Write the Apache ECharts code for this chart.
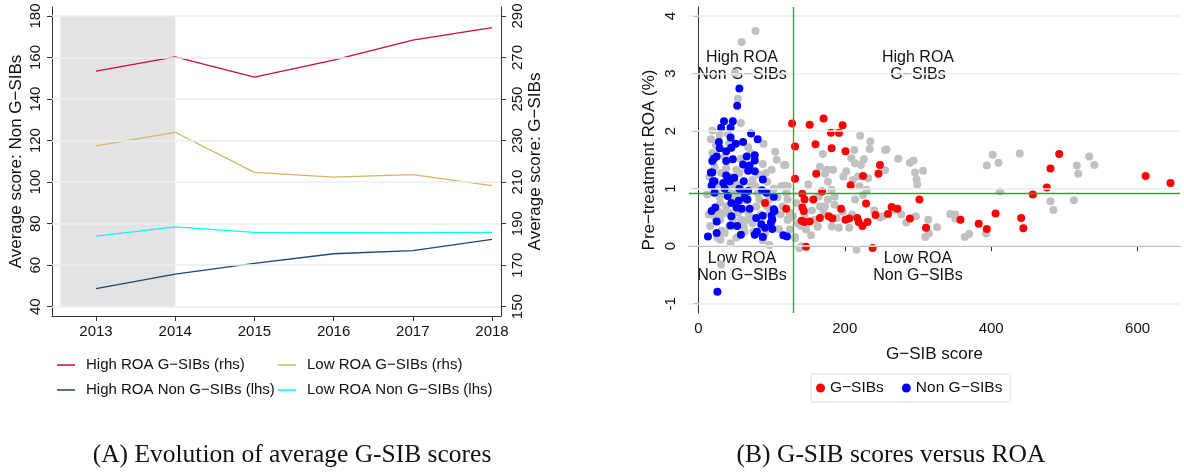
<!DOCTYPE html>
<html>
<head>
<meta charset="utf-8">
<script src="https://cdn.jsdelivr.net/npm/echarts@6/dist/echarts.min.js"></script>
<style>
html, body { margin: 0; padding: 0; background: #fff; }
#main { width: 1184px; height: 472px; }
</style>
</head>
<body>
<div id="main"></div>
<script>
// panel A: average scores by year
var years = [2013, 2014, 2015, 2016, 2017, 2018];
var highRoaGsib = [263.5, 270.3, 260.6, 268.8, 278.4, 284.4];     // rhs
var lowRoaGsib = [227.4, 234.0, 214.7, 212.4, 213.6, 208.3];      // rhs
var highRoaNonGsib = [48.7, 55.7, 60.9, 65.5, 67.0, 72.4];        // lhs
var lowRoaNonGsib = [74.0, 78.4, 75.8, 75.6, 75.7, 75.8];         // lhs
var leftTicks = [40, 60, 80, 100, 120, 140, 160, 180];
var rightTicks = [150, 170, 190, 210, 230, 250, 270, 290];
var preTreatment = [2012.55, 2014];

// panel B: G-SIB score vs pre-treatment ROA
var scoreTicks = [0, 200, 400, 600];
var roaTicks = [-1, 0, 1, 2, 3, 4];
var scoreCut = 130;
var roaCut = 0.92;

var otherPoints = [
  [78,3.74],[59,3.55],[50,3.01],[54,2.56],[58,2.14],
  [19,2.01],[17,1.86],[24,1.76],[19,1.62],[29,1.93],[22,1.37],[31,1.27],[27,1.05],[29,0.85],[30,0.75],
  [34,0.57],[30,0.46],[32,0.27],[30,0.11],[31,-0.32],[40,1.96],[42,1.79],[38,1.35],[40,1.04],[47,0.98],
  [49,0.81],[38,0.69],[42,0.58],[47,0.47],[36,0.23],[28,0.60],[25,0.98],[52,1.33],[56,1.27],[58,1.07],
  [54,0.58],[58,0.46],[62,0.35],[67,0.46],[58,1.52],[68,1.72],[72,1.61],[74,1.15],[72,1.04],[70,0.52],
  [74,0.40],[79,0.69],[83,0.81],[81,0.92],[78,1.04],[89,1.78],[88,1.43],[92,1.27],[94,1.12],[97,0.81],
  [94,0.69],[91,0.22],[97,0.02],[100,1.33],[105,1.64],[107,1.50],[113,1.04],[115,0.69],[117,1.41],[118,1.05],
  [120,0.93],[122,0.81],[125,0.58],[122,0.46],[129,0.52],[132,0.16],[125,0.29],[141,0.0],
  [15,1.2],[12,0.9],[14,0.55],[16,0.35],[45,1.2],[50,1.1],[44,0.9],[65,0.8],[68,0.6],[85,0.55],
  [86,0.35],[88,0.1],[100,0.4],[103,1.0],[108,0.85],[110,0.3],[63,0.25],[52,0.15],[44,0.05],[36,1.55],
  [66,1.35],[82,1.25],[98,0.6],[112,0.55],[60,0.65],[75,0.25],[55,0.9],[42,0.35],[26,0.15],[23,0.5],
  [193,1.96],[221,1.92],[235,1.82],[234,1.69],[255,1.67],[213,1.67],[170,1.60],[209,1.53],[226,1.51],[214,1.44],
  [222,1.41],[166,1.38],[176,1.33],[184,1.33],[202,1.30],[173,1.26],[218,1.21],[198,1.21],[232,1.18],[211,1.15],
  [119,1.41],[122,1.04],[177,1.12],[182,0.98],[220,1.04],[230,0.98],[225,0.89],[150,1.07],[164,0.86],[186,0.86],
  [214,0.81],[177,0.81],[186,0.72],[125,0.57],[134,0.75],[159,0.46],[163,0.34],[173,0.69],[189,0.49],[182,0.34],
  [138,-0.03],[216,-0.06],[132,0.14],[136,0.40],[147,0.29],[154,0.19],[163,0.34],[192,0.32],[206,0.32],[171,0.58],
  [166,0.69],[140,0.35],[122,0.46],[129,0.52],[197,0.60],[210,0.55],[240,0.62],[248,0.50],[155,0.62],[145,0.55],
  [257,1.68],[273,1.52],[289,1.45],[294,1.49],[296,1.28],[307,1.31],[298,1.16],[299,1.07],[255,1.32],[268,0.63],
  [277,0.55],[284,0.41],[297,0.52],[314,0.46],[326,0.33],[310,0.16],[315,0.22],[344,0.56],[351,0.55],[351,0.48],
  [364,0.16],[370,0.21],[393,0.22],[402,1.59],[410,1.45],[394,1.40],[412,0.95],[439,1.61],[517,1.40],[519,1.26],
  [534,1.56],[541,1.41],[481,0.78],[485,0.63],[513,0.80],[252,0.52]
];
var gsibPoints = [
  [128,2.13],[132,1.73],[132,1.17],[152,2.11],[171,2.22],[181,1.97],[192,1.97],[197,2.10],[160,1.77],[182,1.70],
  [201,1.65],[161,1.26],[208,1.06],[225,1.22],[248,1.41],[246,1.26],[229,0.74],[142,0.91],[145,0.81],[157,0.81],
  [169,0.95],[142,0.67],[144,0.61],[120,0.65],[91,0.75],[141,0.44],[145,0.42],[152,0.43],[166,0.49],[178,0.52],
  [183,0.48],[195,0.65],[201,0.46],[206,0.48],[217,0.49],[219,0.42],[224,0.35],[231,0.42],[242,0.54],[259,0.56],
  [264,0.68],[272,0.65],[289,0.48],[302,0.81],[147,-0.01],[238,-0.03],[311,0.32],[358,0.46],[383,0.39],[394,0.30],
  [406,0.57],[441,0.49],[444,0.31],[457,0.90],[476,1.02],[481,1.35],[493,1.60],[611,1.22],[645,1.10]
];
var nonGsibPoints = [
  [56,2.74],[53,2.44],[35,2.17],[47,2.17],[31,2.06],[44,2.06],[72,1.96],[81,1.86],[44,1.89],[28,1.81],
  [51,1.78],[61,1.81],[29,1.70],[38,1.65],[45,1.71],[21,1.52],[25,1.56],[19,1.48],[38,1.48],[47,1.51],
  [66,1.56],[77,1.58],[61,1.42],[77,1.49],[68,1.31],[77,1.30],[19,1.28],[38,1.23],[49,1.19],[62,1.13],
  [88,1.16],[20,1.13],[34,1.10],[43,1.13],[18,1.05],[22,0.93],[63,0.94],[87,0.97],[40,0.87],[55,0.79],
  [67,0.81],[93,0.93],[103,0.86],[45,0.75],[52,0.67],[59,0.65],[70,0.65],[23,0.67],[18,0.61],[45,0.52],
  [79,0.49],[88,0.53],[100,0.53],[103,0.64],[101,0.46],[25,0.43],[44,0.36],[53,0.35],[25,0.23],[13,0.17],
  [58,0.20],[77,0.20],[80,0.25],[88,0.16],[91,0.32],[101,0.30],[116,0.19],[121,0.17],[26,-0.79],[68,0.96],
  [63,0.84],[86,0.38],[99,0.41],[104,0.61],[40,1.19],[22,1.13],[17,1.28],[36,1.0],[70,1.4],[56,1.0]
];

var sans = '"Liberation Sans", Arial, sans-serif';
var serif = '"Liberation Serif", "DejaVu Serif", serif';
var gridColor = '#e8f0f2';
var axisColor = '#333';
var textColor = '#111';

function pairs(xs, ys) {
  return xs.map(function (x, i) { return [x, ys[i]]; });
}

function gridLines(ticks, axisIdx) {
  return {
    type: 'line', xAxisIndex: axisIdx[0], yAxisIndex: axisIdx[1], data: [], z: 0, silent: true,
    markLine: {
      silent: true, symbol: ['none', 'none'], label: { show: false },
      lineStyle: { color: gridColor, width: 1.5, type: 'solid' },
      data: ticks.map(function (v) { return { yAxis: v }; })
    }
  };
}

function valueAxis(extra) {
  var base = {
    type: 'value',
    axisLine: { show: true, lineStyle: { color: axisColor, width: 1 } },
    axisTick: { show: true, length: 5, lineStyle: { color: axisColor } },
    splitLine: { show: false },
    axisLabel: { color: textColor, fontFamily: sans, fontSize: 15, formatter: function (v) { return String(v); } },
    nameTextStyle: { color: textColor, fontFamily: sans, fontSize: 17 }
  };
  for (var k in extra) {
    if (typeof extra[k] === 'object' && base[k] && !Array.isArray(extra[k])) {
      for (var j in extra[k]) base[k][j] = extra[k][j];
    } else {
      base[k] = extra[k];
    }
  }
  return base;
}

function lineSeries(name, data, yIdx, color) {
  return {
    name: name, type: 'line', xAxisIndex: 0, yAxisIndex: yIdx, z: 3,
    data: pairs(years, data), symbol: 'none',
    lineStyle: { color: color, width: 1.3 }, itemStyle: { color: color }
  };
}

function textEl(text, x, y, size, font) {
  return {
    type: 'text', x: x, y: y, silent: true,
    style: {
      text: text, font: size + 'px ' + (font || sans), fill: textColor,
      align: 'center', textAlign: 'center', verticalAlign: 'middle', textVerticalAlign: 'middle',
      lineHeight: size + 1
    }
  };
}

var lineLegend = {
  orient: 'vertical', top: 356, padding: 0, icon: 'rect', itemWidth: 18, itemHeight: 1.5, itemGap: 7,
  textStyle: { color: textColor, fontFamily: sans, fontSize: 15, lineHeight: 18, padding: [0, 0, 0, 6] }
};

var option = {
  animation: false,
  backgroundColor: '#fff',
  grid: [
    { left: 52, top: 7, width: 449, height: 309 },
    { left: 689, top: 7, width: 491, height: 306 }
  ],
  xAxis: [
    valueAxis({
      gridIndex: 0, min: 2012.444, max: 2018.114,
      axisLabel: { customValues: years, margin: 8 },
      axisTick: { customValues: years }
    }),
    valueAxis({
      gridIndex: 1, min: -12.85, max: 658,
      name: 'G−SIB score', nameLocation: 'middle', nameGap: 33,
      axisLabel: { customValues: scoreTicks, margin: 8 },
      axisTick: { customValues: scoreTicks }
    })
  ],
  yAxis: [
    valueAxis({
      gridIndex: 0, position: 'left', min: 35.52, max: 184.33,
      name: 'Average score: Non G−SIBs', nameLocation: 'middle', nameRotate: 90, nameGap: 27,
      axisLabel: { customValues: leftTicks, rotate: 90, margin: 9 },
      axisTick: { customValues: leftTicks }
    }),
    valueAxis({
      gridIndex: 0, position: 'right', min: 145.52, max: 294.33,
      name: 'Average score: G−SIBs', nameLocation: 'middle', nameRotate: 90, nameGap: 26,
      axisLabel: { customValues: rightTicks, rotate: 90, margin: 9 },
      axisTick: { customValues: rightTicks }
    }),
    valueAxis({
      gridIndex: 1, min: -1.161, max: 4.156,
      name: 'Pre−treatment ROA (%)', nameLocation: 'middle', nameRotate: 90, nameGap: 31,
      axisLabel: { customValues: roaTicks, rotate: 90, margin: 11 },
      axisTick: { customValues: roaTicks }
    })
  ],
  legend: [
    Object.assign({}, lineLegend, { left: 57, data: ['High ROA G−SIBs (rhs)', 'High ROA Non G−SIBs (lhs)'] }),
    Object.assign({}, lineLegend, { left: 278, data: ['Low ROA G−SIBs (rhs)', 'Low ROA Non G−SIBs (lhs)'] }),
    {
      orient: 'horizontal', left: 811, top: 374, icon: 'circle', itemWidth: 9, itemHeight: 9, itemGap: 18,
      padding: [6, 8, 6, 5], borderColor: '#e3ecee', borderWidth: 1.5,
      textStyle: { color: textColor, fontFamily: sans, fontSize: 15.5 },
      data: ['G−SIBs', 'Non G−SIBs']
    }
  ],
  series: [
    gridLines(leftTicks, [0, 0]),
    {
      type: 'line', xAxisIndex: 0, yAxisIndex: 0, data: [], z: 1, silent: true,
      markArea: {
        silent: true, itemStyle: { color: '#e3e3e3' },
        data: [[{ xAxis: preTreatment[0], yAxis: leftTicks[0] }, { xAxis: preTreatment[1], yAxis: leftTicks[leftTicks.length - 1] }]]
      }
    },
    lineSeries('High ROA G−SIBs (rhs)', highRoaGsib, 1, '#cc0c3c'),
    lineSeries('Low ROA G−SIBs (rhs)', lowRoaGsib, 1, '#d6b45e'),
    lineSeries('High ROA Non G−SIBs (lhs)', highRoaNonGsib, 0, '#1a476f'),
    lineSeries('Low ROA Non G−SIBs (lhs)', lowRoaNonGsib, 0, '#00ffff'),

    gridLines(roaTicks, [1, 2]),
    {
      type: 'line', xAxisIndex: 1, yAxisIndex: 2, data: [], z: 1, silent: true,
      markLine: {
        silent: true, symbol: ['none', 'none'], label: { show: false },
        lineStyle: { color: '#3c9a3c', width: 1.3, type: 'solid' },
        data: [{ xAxis: scoreCut }, { yAxis: roaCut }]
      }
    },
    {
      name: 'Other', type: 'scatter', xAxisIndex: 1, yAxisIndex: 2, z: 2,
      data: otherPoints, symbolSize: 8, itemStyle: { color: '#c0c0c0', opacity: 1 }
    },
    {
      name: 'G−SIBs', type: 'scatter', xAxisIndex: 1, yAxisIndex: 2, z: 3,
      data: gsibPoints, symbolSize: 8, itemStyle: { color: '#ff0000', opacity: 1 }
    },
    {
      name: 'Non G−SIBs', type: 'scatter', xAxisIndex: 1, yAxisIndex: 2, z: 4,
      data: nonGsibPoints, symbolSize: 8, itemStyle: { color: '#0000ff', opacity: 1 }
    }
  ],
  graphic: [
    textEl('Pre−treatment\nperiod', 119, 193, 16),
    textEl('High ROA\nNon G−SIBs', 742, 66, 16),
    textEl('High ROA\nG−SIBs', 918, 66, 16),
    textEl('Low ROA\nNon G−SIBs', 742, 267, 16),
    textEl('Low ROA\nNon G−SIBs', 918, 267, 16),
    textEl('(A) Evolution of average G-SIB scores', 292, 455, 25.5, serif),
    textEl('(B) G-SIB scores versus ROA', 891, 455, 25.5, serif)
  ]
};

var myChart = echarts.init(document.getElementById('main'));
myChart.setOption(option);
</script>
</body>
</html>
